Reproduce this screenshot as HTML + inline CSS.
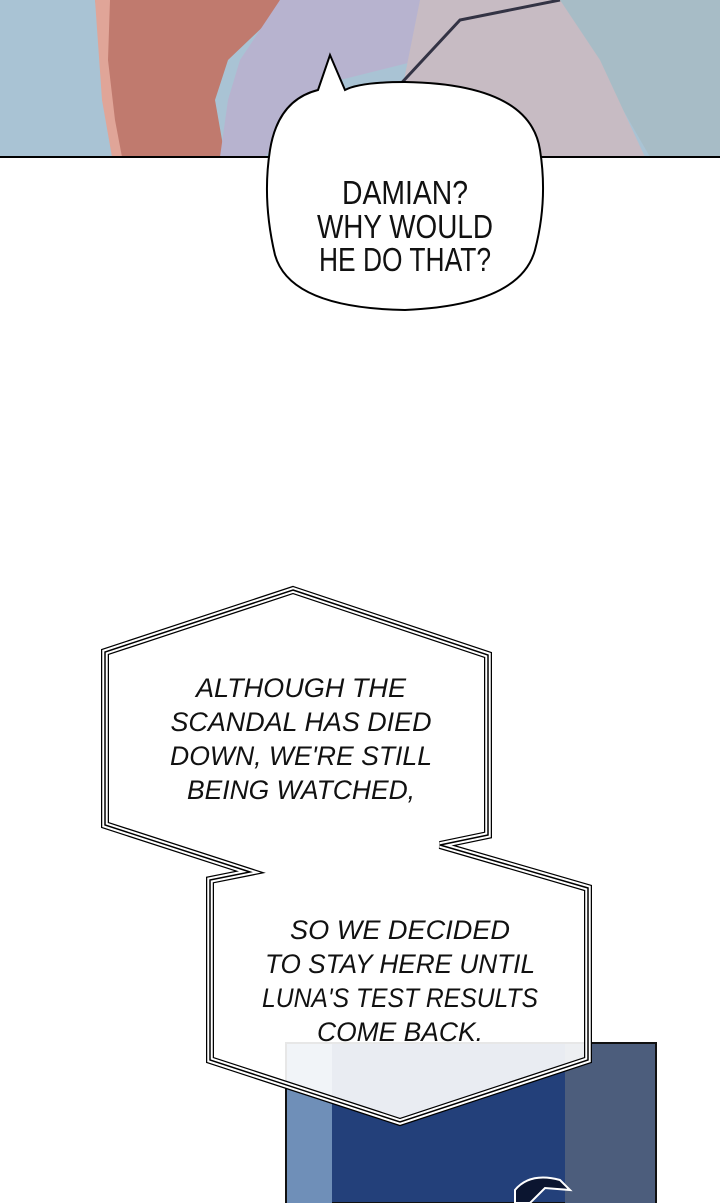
<!DOCTYPE html>
<html><head><style>
html,body{margin:0;padding:0;background:#fff;width:720px;height:1203px;overflow:hidden}
svg{display:block}
text{font-family:"Liberation Sans",sans-serif}
.nar{font-family:"Liberation Sans Narrow","Liberation Sans",sans-serif}
</style></head><body>
<svg width="720" height="1203" viewBox="0 0 720 1203" xmlns="http://www.w3.org/2000/svg">
<rect x="0" y="0" width="720" height="157" fill="#a9c3d4"/>
<path d="M560,0 L720,0 L720,157 L650,157 Z" fill="#a7bcc6"/>
<path d="M95,0 L280,0 L270,20 L228,60 L215,100 L225,157 L120,157 L110,120 L105,60 Z" fill="#c07a6e"/>
<path d="M95,0 L110,0 L108,60 L115,120 L122,157 L112,157 L102,100 Z" fill="#e0a598"/>
<path d="M280,0 L500,0 L420,60 L340,80 L300,110 L265,157 L220,157 L228,100 L240,60 Z" fill="#b7b3cf"/>
<path d="M420,0 L560,0 L600,60 L645,157 L420,157 L400,100 Z" fill="#c7bbc3"/>
<path d="M395,90 L460,20 L560,0" fill="none" stroke="#334" stroke-width="3"/>
<line x1="0" y1="157" x2="720" y2="157" stroke="#000" stroke-width="2"/>
<path d="M330,55 L345,90 Q360,82 405,82 Q530,84 540,150 Q548,200 535,250 Q520,305 405,310 Q290,308 275,255 Q262,200 270,150 Q278,100 318,90 Z" fill="#fff" stroke="#000" stroke-width="2"/>
<g class="nar" font-size="33" text-anchor="middle" fill="#111">
<text x="405" y="204" textLength="126" lengthAdjust="spacingAndGlyphs">DAMIAN?</text>
<text x="405" y="238" textLength="176" lengthAdjust="spacingAndGlyphs">WHY WOULD</text>
<text x="405" y="271" textLength="172" lengthAdjust="spacingAndGlyphs">HE DO THAT?</text>
</g>
<rect x="286" y="1043" width="370" height="160" fill="#23407a" stroke="#111" stroke-width="2"/>
<rect x="287" y="1044" width="45" height="159" fill="#6f8fb8"/>
<rect x="565" y="1044" width="90" height="159" fill="#4c5d7c"/>
<path d="M515,1190 Q530,1172 560,1180 L570,1190 L545,1188 L530,1203 L515,1203 Z" fill="#0b1530" stroke="#fff" stroke-width="2"/>
<path d="M293,590 L488,655 L488,835 L440,845 L588,888 L588,1060 L400,1122 L210,1060 L210,880 L250,872 L105,825 L105,652 Z" fill="#fff" fill-opacity="0.9"/>
<g fill="none" stroke-linejoin="miter">
<path d="M293,590 L488,655 L488,835 L440,845 L588,888 L588,1060 L400,1122 L210,1060 L210,880 L250,872 L105,825 L105,652 Z" stroke="#000" stroke-width="8"/>
<path d="M293,590 L488,655 L488,835 L440,845 L588,888 L588,1060 L400,1122 L210,1060 L210,880 L250,872 L105,825 L105,652 Z" stroke="#fff" stroke-width="5.5"/>
<path d="M293,590 L488,655 L488,835 L440,845 L588,888 L588,1060 L400,1122 L210,1060 L210,880 L250,872 L105,825 L105,652 Z" stroke="#000" stroke-width="1.5"/>
</g>
<g font-size="27" font-style="italic" text-anchor="middle" fill="#111">
<text x="301" y="697" textLength="210" lengthAdjust="spacingAndGlyphs">ALTHOUGH THE</text>
<text x="301" y="731" textLength="261" lengthAdjust="spacingAndGlyphs">SCANDAL HAS DIED</text>
<text x="301" y="765" textLength="262" lengthAdjust="spacingAndGlyphs">DOWN, WE'RE STILL</text>
<text x="301" y="799" textLength="228" lengthAdjust="spacingAndGlyphs">BEING WATCHED,</text>
<text x="400" y="939" textLength="220" lengthAdjust="spacingAndGlyphs">SO WE DECIDED</text>
<text x="400" y="973" textLength="270" lengthAdjust="spacingAndGlyphs">TO STAY HERE UNTIL</text>
<text x="400" y="1007" textLength="276" lengthAdjust="spacingAndGlyphs">LUNA'S TEST RESULTS</text>
<text x="400" y="1041" textLength="166" lengthAdjust="spacingAndGlyphs">COME BACK.</text>
</g>
</svg>
</body></html>
